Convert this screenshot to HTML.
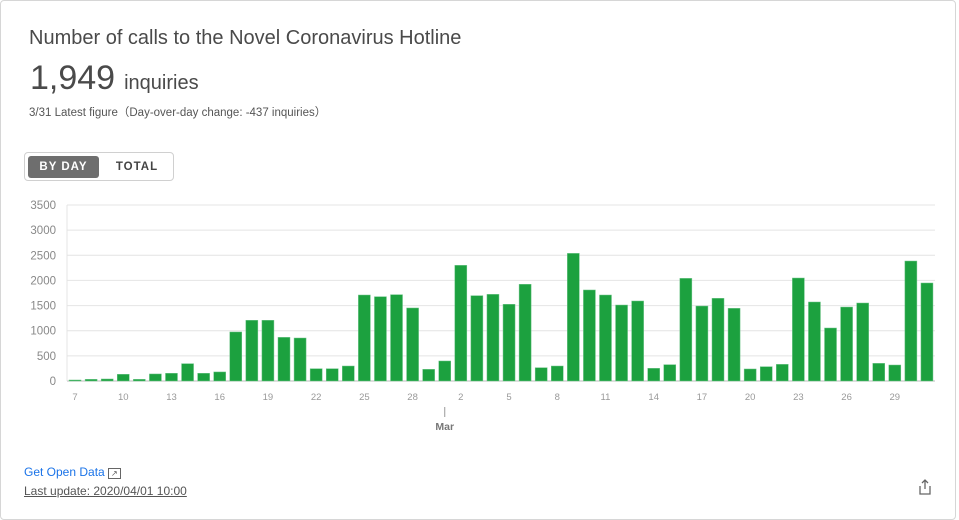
<!DOCTYPE html>
<html><head><meta charset="utf-8"><style>
body{margin:0;background:#fff;font-family:"Liberation Sans",sans-serif;}
.card{position:absolute;left:0;top:0;width:956px;height:520px;border:1px solid #d6d6d6;border-radius:4px;box-sizing:border-box;}
.t{position:absolute;left:28px;top:26px;font-size:20px;color:#4a4a4a;}
.big{position:absolute;left:29px;top:58px;font-size:34px;color:#4a4a4a;}
.big span{font-size:20px;margin-left:9px;}
.sub{position:absolute;left:28px;top:103px;font-size:11.5px;color:#555;}
.tog{position:absolute;left:23px;top:151px;width:150px;height:29px;border:1px solid #d0d0d0;border-radius:4px;box-sizing:border-box;}
.b1{position:absolute;left:3px;top:3px;width:71px;height:22px;background:#6e6e6e;color:#fff;border-radius:3px;font-size:11.5px;font-weight:bold;letter-spacing:1px;text-align:center;line-height:22px;}
.b2{position:absolute;left:82px;top:3px;width:60px;height:22px;color:#444;font-size:11.5px;font-weight:bold;letter-spacing:1px;text-align:center;line-height:22px;}
.od{position:absolute;left:23px;top:464px;font-size:12px;color:#1a73e8;}
.lu{position:absolute;left:23px;top:483px;font-size:12px;color:#555;text-decoration:underline;}
</style></head><body>
<div class="card">
<div class="t">Number of calls to the Novel Coronavirus Hotline</div>
<div class="big">1,949<span>inquiries</span></div>
<div class="sub">3/31 Latest figure（Day-over-day change: -437 inquiries）</div>
<div class="tog">
<div class="b1">BY DAY</div>
<div class="b2">TOTAL</div>
</div>
<svg id="ch" width="959" height="440" style="position:absolute;left:0;top:0"></svg>
<div class="od">Get Open Data <span style="color:#555;border:1px solid #666;font-size:8px;padding:0 2px">↗</span></div>
<div class="lu">Last update: 2020/04/01 10:00</div>
<svg style="position:absolute;left:916px;top:478px" width="16" height="16"><path d="M3 7v8h10V7M8 1v9M5 4l3-3 3 3" fill="none" stroke="#666" stroke-width="1.3"/></svg>
</div>
<script>
const days=["7","8","9","10","11","12","13","14","15","16","17","18","19","20","21","22","23","24","25","26","27","28","29","1","2","3","4","5","6","7","8","9","10","11","12","13","14","15","16","17","18","19","20","21","22","23","24","25","26","27","28","29","30","31"];
const calls=[20,33,40,133,33,140,153,345,153,180,975,1207,1207,868,855,245,245,298,1710,1677,1717,1452,232,398,2300,1697,1723,1525,1923,265,298,2538,1810,1710,1511,1591,252,325,2041,1491,1644,1445,239,285,331,2048,1571,1054,1471,1551,351,318,2386,1949];
const yTicks=[0,500,1000,1500,2000,2500,3000,3500];
const NS="http://www.w3.org/2000/svg";
const svg=document.getElementById('ch');
const X0=66,X1=934,Y0=380,Y1=204,YMAX=3500;
const step=(X1-X0)/calls.length;
const y=v=>Y0-(v/YMAX)*(Y0-Y1);
const xc=i=>X0+step*(i+0.5);
function mk(t,a){const e=document.createElementNS(NS,t);for(const k in a)e.setAttribute(k,a[k]);svg.appendChild(e);return e;}
yTicks.forEach(v=>{
 const l=mk('line',{x1:X0,x2:X1,y1:y(v),y2:y(v),stroke:v===0?'#bbb':'#e4e4e4','stroke-width':1});
 
 
 const t=mk('text',{x:55,y:y(v)+4,'text-anchor':'end','font-size':11.5,fill:'#888','font-family':'Liberation Sans'});
 t.textContent=v;
 
 
});
const ax=mk('line',{x1:X0,x2:X0,y1:Y1,y2:Y0,stroke:'#e4e4e4'});


calls.forEach((v,i)=>{
 const r=mk('rect',{x:xc(i)-6,y:y(v),width:12,height:Y0-y(v),fill:'#1ca13f',stroke:'#6fc58a','stroke-width':0.5});
 
 
 if(i%3===0){
  const t=mk('text',{x:xc(i),y:399,'text-anchor':'middle','font-size':9.5,fill:'#999','font-family':'Liberation Sans'});
  t.textContent=days[i];
  
  
 }
});
const mi=days.indexOf("1");
const ml=mk('line',{x1:xc(mi),x2:xc(mi),y1:406,y2:416,stroke:'#999'});


const mt=mk('text',{x:xc(mi),y:429,'text-anchor':'middle','font-size':10.5,'font-weight':'bold',fill:'#777','font-family':'Liberation Sans'});
mt.textContent='Mar';


</script>
</body></html>
